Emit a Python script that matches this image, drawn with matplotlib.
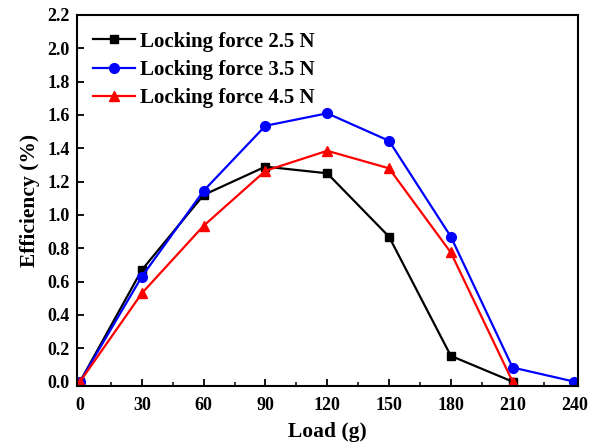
import matplotlib
matplotlib.use("Agg")
import matplotlib.pyplot as plt
from matplotlib.ticker import MultipleLocator, FormatStrFormatter

load = [0, 30, 60, 90, 120, 150, 180, 210, 240]
eff_25 = [0.0, 0.67, 1.12, 1.29, 1.25, 0.87, 0.155, 0.0]
eff_35 = [0.0, 0.63, 1.145, 1.535, 1.61, 1.445, 0.87, 0.085, 0.0]
eff_45 = [0.0, 0.53, 0.935, 1.265, 1.385, 1.28, 0.775, 0.0]
labels = ["Locking force 2.5 N", "Locking force 3.5 N", "Locking force 4.5 N"]

plt.rcParams['font.family'] = ['Liberation Serif', 'DejaVu Serif']
plt.rcParams['font.weight'] = 'bold'

fig = plt.figure(figsize=(6.04, 4.46), dpi=100)
ax = fig.add_axes([0.127, 0.1345, 0.8305, 0.832])

ax.plot(load[:len(eff_25)], eff_25, color='black', marker='s', markersize=6, lw=1.6, label=labels[0])
ax.plot(load[:len(eff_35)], eff_35, color='blue', marker='o', markersize=7, lw=1.6, label=labels[1])
ax.plot(load[:len(eff_45)], eff_45, color='red', marker='^', markersize=7, lw=1.6, label=labels[2])

ax.set_xlim(-1.6, 241.9)
ax.set_ylim(-0.026, 2.2)
ax.xaxis.set_major_locator(MultipleLocator(30))
ax.xaxis.set_minor_locator(MultipleLocator(15))
ax.yaxis.set_major_locator(MultipleLocator(0.2))
ax.yaxis.set_major_formatter(FormatStrFormatter('%.1f'))

ax.tick_params(axis='x', which='major', direction='in', length=5, width=1.3, labelsize=13, pad=8)
ax.tick_params(axis='x', which='minor', direction='in', length=3, width=1.1)
ax.tick_params(axis='y', which='major', direction='in', length=5, width=1.3, labelsize=13, pad=5)
for lab in ax.get_xticklabels() + ax.get_yticklabels():
    lab.set_fontweight('bold')
for s in ax.spines.values():
    s.set_linewidth(1.5)

ax.set_xlabel("Load (g)", fontsize=15.5, fontweight='bold', labelpad=6)
ax.set_ylabel("Efficiency (%)", fontsize=15.5, fontweight='bold', labelpad=5)

ax.legend(loc='upper left', frameon=False, handlelength=2.0,
          handletextpad=0.25, labelspacing=0.4, borderaxespad=0.4,
          prop={'weight': 'bold', 'size': 15})

fig.savefig("out.png", dpi=100)
